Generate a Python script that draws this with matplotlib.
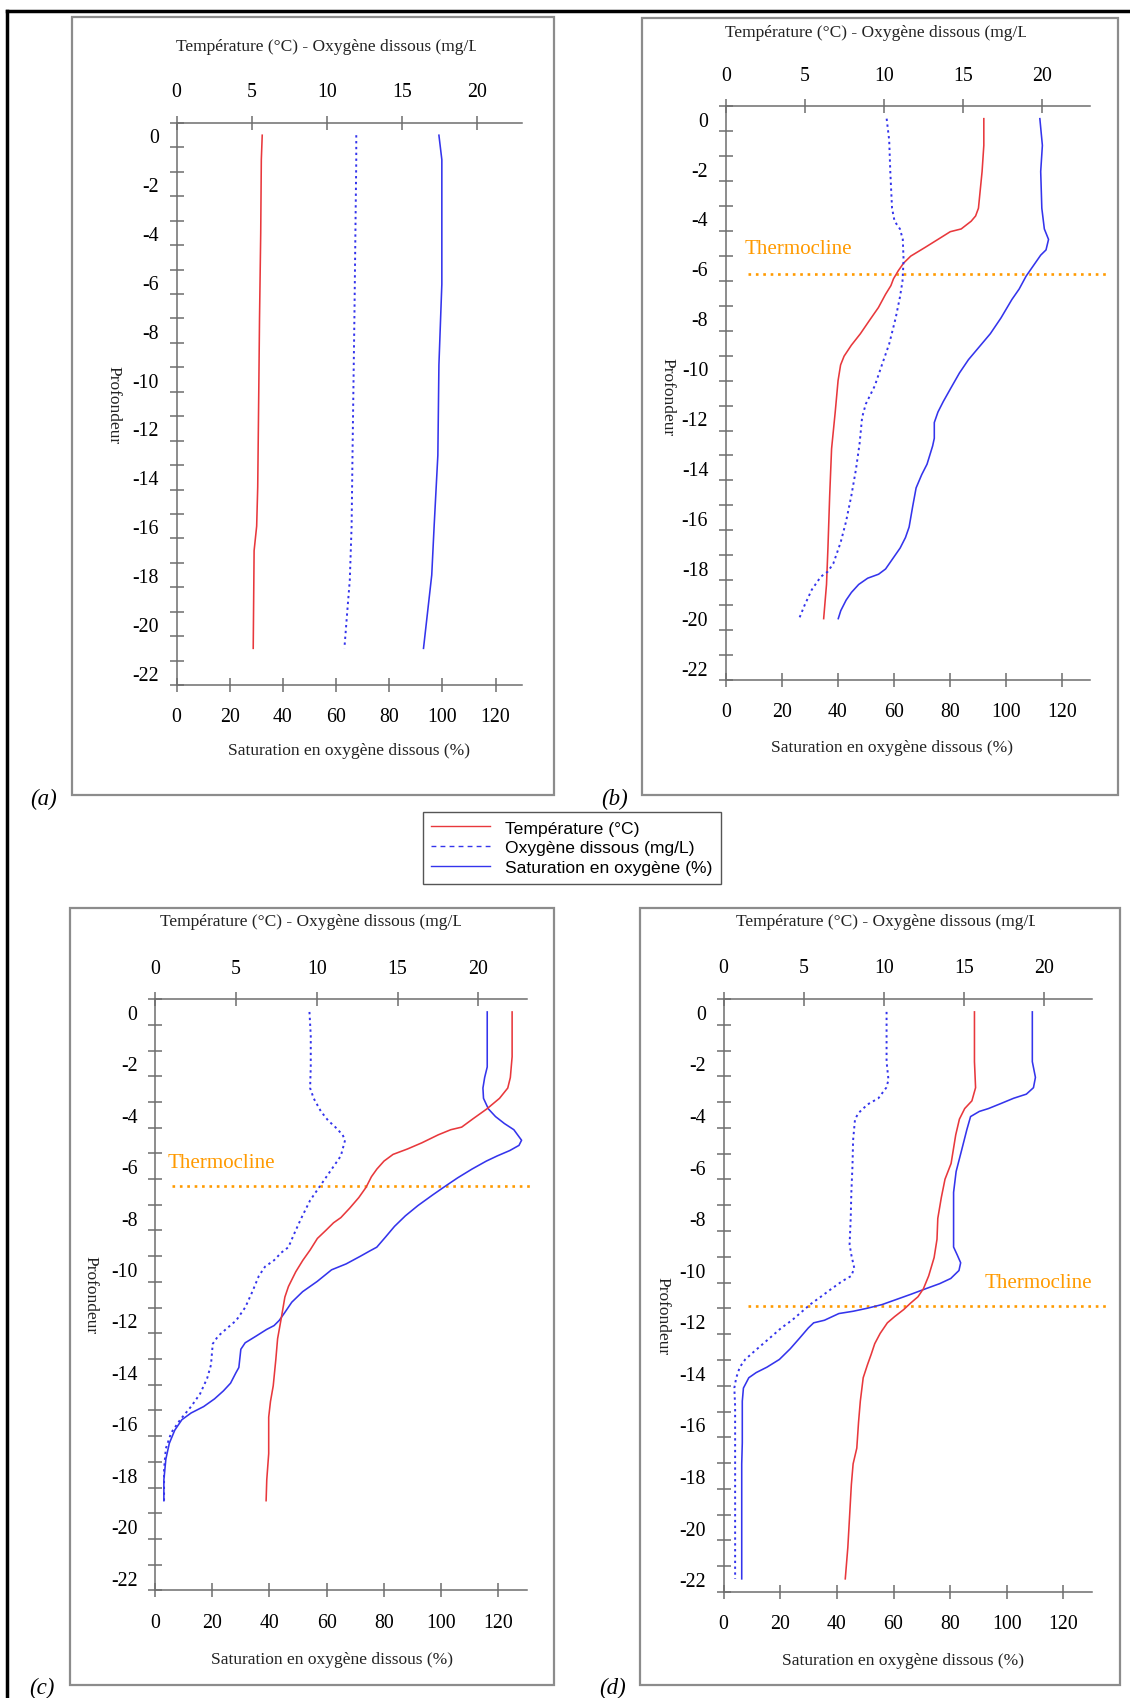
import matplotlib
matplotlib.use('Agg')
import matplotlib.pyplot as plt
from matplotlib.lines import Line2D
from matplotlib.patches import Rectangle
from matplotlib.transforms import Bbox, TransformedBbox

plt.rcParams['axes.unicode_minus'] = False
plt.rcParams['font.family'] = ['Liberation Serif', 'DejaVu Serif']

# ---------------- data ----------------
# panel (a)
a_temp_depth = [0, -1, -4, -7.5, -10.5, -14.4, -16, -17, -21]
a_temp = [5.70, 5.64, 5.60, 5.52, 5.47, 5.40, 5.33, 5.16, 5.10]
a_o2_depth = [0, -1, -7.3, -12.6, -16, -18.2, -19.5, -21]
a_o2 = [11.96, 11.96, 11.84, 11.72, 11.65, 11.53, 11.36, 11.17]
a_sat_depth = [0, -1, -6.1, -9.4, -13.1, -16, -18, -21]
a_sat = [98.7, 99.8, 99.8, 98.7, 98.3, 96.9, 96.0, 92.9]

# panel (b)
b_temp_depth = [0, -1.07, -2.12, -3.59, -3.90, -4.11, -4.42, -4.53, -4.80, -5.16, -5.51, -5.79, -6.10,
                -6.42, -6.69, -7.04, -7.57, -8.09, -8.62, -9.08, -9.52, -9.87, -10.50, -11.76, -13.23,
                -15.11, -17.21, -18.67, -20.04]
b_temp = [16.31, 16.31, 16.20, 15.97, 15.79, 15.51, 14.88, 14.19, 13.51, 12.60, 11.69, 11.24, 10.90,
          10.60, 10.44, 10.10, 9.65, 9.08, 8.51, 7.94, 7.48, 7.26, 7.10, 6.92, 6.69, 6.57, 6.46, 6.37, 6.19]
b_o2_depth = [0, -0.86, -2.12, -3.59, -4.11, -4.42, -4.84, -5.68, -6.52, -7.15, -7.99, -9.03, -9.87,
              -10.71, -11.44, -11.97, -13.02, -14.06, -15.11, -16.16, -16.99, -17.83, -18.15, -18.36,
              -18.88, -19.51, -20.04]
b_o2 = [10.17, 10.33, 10.40, 10.51, 10.67, 11.01, 11.19, 11.24, 11.17, 11.01, 10.74, 10.33, 9.87, 9.42,
        8.85, 8.62, 8.46, 8.23, 7.94, 7.60, 7.26, 6.80, 6.46, 6.01, 5.44, 4.98, 4.64]
b_sat_depth = [0, -1.07, -2.12, -3.59, -4.42, -4.84, -5.26, -5.47, -5.89, -6.31, -6.83, -7.25, -7.99,
               -8.62, -9.14, -9.66, -10.19, -10.82, -11.34, -11.76, -12.18, -12.81, -13.12, -13.85,
               -14.27, -14.80, -15.53, -16.37, -16.79, -17.21, -17.63, -18.05, -18.26, -18.42, -18.67,
               -18.99, -19.30, -19.72, -20.04]
b_sat = [112.2, 113.1, 112.5, 112.9, 113.8, 115.3, 114.4, 112.5, 109.9, 107.3, 104.8, 102.2, 98.3, 94.5,
         90.6, 86.7, 83.5, 80.3, 77.7, 75.8, 74.5, 74.5, 73.9, 71.9, 70.0, 68.0, 66.8, 65.5, 64.2, 62.3,
         59.7, 57.1, 54.6, 50.7, 47.5, 44.9, 43.0, 41.1, 40.2]
b_thermo_depth = -6.21

# panel (c)
c_temp_depth = [0, -1.74, -2.55, -2.96, -3.36, -3.77, -4.17, -4.48, -4.58, -4.78, -5.09, -5.33, -5.54,
                -5.80, -6.11, -6.41, -6.82, -7.22, -7.63, -8.00, -8.20, -8.48, -8.81, -9.26, -9.66,
                -10.11, -10.68, -11.09, -11.90, -12.71, -13.52, -14.54, -15.15, -15.76, -17.18, -18.20, -19.01]
c_temp = [22.08, 22.08, 21.97, 21.81, 21.30, 20.52, 19.63, 18.96, 18.29, 17.51, 16.50, 15.61, 14.72,
          14.16, 13.72, 13.38, 13.05, 12.60, 12.04, 11.49, 11.04, 10.59, 10.04, 9.59, 9.14, 8.70, 8.25,
          8.03, 7.81, 7.58, 7.47, 7.31, 7.14, 7.03, 7.03, 6.91, 6.87]
c_o2_depth = [0, -0.92, -2.14, -2.96, -3.36, -3.87, -4.22, -4.48, -4.78, -4.99, -5.60, -6.21, -6.72,
              -7.33, -8.04, -8.65, -9.15, -9.36, -9.66, -9.91, -10.27, -10.88, -11.49, -12.00, -12.30,
              -12.61, -12.91, -13.73, -14.24, -14.85, -15.35, -15.86, -16.37, -16.98, -17.79, -19.01]
c_o2 = [9.55, 9.63, 9.63, 9.59, 9.81, 10.26, 10.70, 11.15, 11.60, 11.75, 11.49, 10.82, 10.26, 9.59,
        9.03, 8.59, 8.25, 7.81, 7.36, 6.80, 6.42, 6.02, 5.58, 5.02, 4.46, 3.90, 3.57, 3.46, 3.23, 2.79,
        2.23, 1.56, 1.00, 0.67, 0.56, 0.56]
c_sat_depth = [0, -2.14, -2.55, -2.96, -3.36, -3.77, -4.07, -4.34, -4.58, -4.99, -5.19, -5.39, -5.60,
               -5.80, -6.11, -6.45, -6.78, -7.12, -7.53, -7.93, -8.34, -8.75, -9.15, -9.30, -9.50, -9.80,
               -10.03, -10.48, -10.88, -11.29, -11.70, -12.00, -12.20, -12.35, -12.61, -12.87, -13.12,
               -13.83, -14.03, -14.44, -14.74, -15.05, -15.35, -15.60, -15.86, -16.27, -16.78, -17.39,
               -18.20, -19.01]
c_sat = [116.1, 116.1, 115.2, 114.6, 114.8, 116.5, 119.0, 122.1, 125.4, 128.1, 127.2, 124.0, 119.6,
         115.8, 110.8, 105.8, 101.4, 97.0, 91.9, 87.5, 83.7, 80.6, 77.5, 75.0, 71.8, 66.8, 61.7, 56.7,
         51.6, 47.8, 45.3, 43.4, 41.6, 39.0, 35.3, 31.5, 30.0, 29.3, 28.3, 26.4, 23.9, 20.8, 17.0, 12.6,
         9.4, 6.9, 5.0, 3.8, 3.1, 3.1]
c_thermo_depth = -6.76

# panel (d)
d_temp_depth = [0, -1.93, -2.94, -3.45, -3.75, -4.16, -4.77, -5.88, -6.49, -7.20, -8.01, -8.82, -9.53,
                -10.24, -10.74, -11.05, -11.29, -11.55, -11.82, -12.06, -12.47, -12.87, -13.28, -13.68,
                -14.19, -15.10, -15.91, -16.92, -17.53, -18.34, -19.56, -20.77, -21.99]
d_temp = [15.67, 15.67, 15.74, 15.51, 15.06, 14.73, 14.50, 14.21, 13.83, 13.60, 13.38, 13.33, 13.15,
          12.81, 12.48, 12.14, 11.69, 11.24, 10.68, 10.23, 9.78, 9.44, 9.22, 8.99, 8.72, 8.54, 8.43,
          8.32, 8.09, 7.98, 7.87, 7.76, 7.60]
d_o2_depth = [0, -1.93, -2.64, -2.94, -3.35, -3.59, -3.92, -4.16, -4.97, -5.98, -7.00, -8.01, -9.02,
              -9.43, -9.93, -10.24, -10.44, -10.74, -11.05, -11.35, -11.66, -11.96, -12.26, -12.57,
              -12.87, -13.17, -13.48, -13.78, -14.19, -14.59, -15.30, -17.13, -19.15, -21.99]
d_o2 = [10.18, 10.18, 10.30, 10.16, 9.67, 8.99, 8.43, 8.21, 8.09, 8.05, 7.98, 7.94, 7.87, 7.98, 8.16,
        7.98, 7.42, 6.74, 6.07, 5.40, 4.83, 4.27, 3.60, 3.03, 2.47, 1.91, 1.35, 1.01, 0.79, 0.67, 0.72,
        0.72, 0.72, 0.72]
d_sat_depth = [0, -1.93, -2.54, -2.94, -3.19, -3.35, -3.55, -3.75, -3.86, -4.06, -4.56, -5.38, -6.19,
               -7.00, -8.01, -9.12, -9.43, -9.73, -10.03, -10.34, -10.54, -10.74, -10.95, -11.15, -11.35,
               -11.49, -11.61, -11.70, -11.96, -12.06, -12.26, -12.67, -13.07, -13.48, -13.78, -13.99,
               -14.19, -14.59, -15.10, -16.72, -17.53, -21.99]
d_sat = [109.0, 109.0, 110.1, 109.4, 106.9, 102.4, 98.0, 93.5, 90.3, 87.2, 85.9, 84.0, 82.1, 81.2, 81.2,
         81.2, 82.5, 83.7, 83.1, 80.2, 76.3, 71.3, 66.2, 61.1, 56.0, 50.9, 45.8, 40.7, 35.6, 31.8, 29.9,
         26.7, 23.5, 19.7, 15.3, 11.5, 8.9, 7.0, 6.6, 6.6, 6.4, 6.4]
d_thermo_depth = -11.39

# axes ticks / labels
sat_ticks = [0, 20, 40, 60, 80, 100, 120]
temp_ticks = [0, 5, 10, 15, 20]
depth_labels = [0, -2, -4, -6, -8, -10, -12, -14, -16, -18, -20, -22]
depth_minor = [0.5 - k for k in range(24)]
panel_tags = ['(a)', '(b)', '(c)', '(d)']
series_names = ['Température (°C)', 'Oxygène dissous (mg/L)', 'Saturation en oxygène (%)']
top_title = 'Température (°C) - Oxygène dissous (mg/L)'
bottom_title = 'Saturation en oxygène dissous (%)'
depth_title = 'Profondeur'
thermo_text = 'Thermocline'

# ---------------- style / layout ----------------
W, H = 1130, 1699
RED = '#e8383c'
BLUE = '#3434ec'
ORANGE = '#ff9a00'
AXC = '#6e6e6e'

fig = plt.figure(figsize=(W / 100, H / 100), dpi=100)


def frect(l, t, r, b):
    return [l / W, 1 - b / H, (r - l) / W, (b - t) / H]


panels = [
    dict(ax=(176.6, 124.0, 522.1, 686.0), frame=(72, 18, 554, 796),
         top=(-0.003, 1.137, 475.7), bot=(0.500, -0.1148), dep=(-0.1826, 0.5), tag=(30.6, 799),
         temp=(a_temp, a_temp_depth), o2=(a_o2, a_o2_depth), sat=(a_sat, a_sat_depth),
         thermo=None),
    dict(ax=(725.7, 107.2, 1089.7, 681.0), frame=(642, 19, 1118, 796),
         top=(-0.001, 1.129, 1025.5), bot=(0.456, -0.1168), dep=(-0.161, 0.494), tag=(601, 799),
         temp=(b_temp, b_temp_depth), o2=(b_o2, b_o2_depth), sat=(b_sat, b_sat_depth),
         thermo=(b_thermo_depth, 8.0, 136.9, 6.8, -5.22)),
    dict(ax=(155.0, 1000.1, 527.0, 1591.4), frame=(69.5, 908.7, 554, 1686),
         top=(0.0145, 1.132, 461.3), bot=(0.4755, -0.1157), dep=(-0.1726, 0.501), tag=(29.5, 1688.6),
         temp=(c_temp, c_temp_depth), o2=(c_o2, c_o2_depth), sat=(c_sat, c_sat_depth),
         thermo=(c_thermo_depth, 6.0, 131.9, 4.4, -5.86)),
    dict(ax=(723.6, 1000.0, 1091.8, 1593.0), frame=(639.6, 908.7, 1120, 1686),
         top=(0.034, 1.132, 1035.3), bot=(0.487, -0.1147), dep=(-0.1665, 0.467), tag=(599, 1688.6),
         temp=(d_temp, d_temp_depth), o2=(d_o2, d_o2_depth), sat=(d_sat, d_sat_depth),
         thermo=(d_thermo_depth, 8.6, 136.5, 92.2, -10.5)),
]

TICK_FS = 14.3
LABEL_FS = 12.5

for i, p in enumerate(panels):
    l, t, r, b = p['frame']
    fig.patches.append(Rectangle((l / W, 1 - b / H), (r - l) / W, (b - t) / H,
                                 transform=fig.transFigure, fill=False, ec='#8c8c8c', lw=1.6))

    ax = fig.add_axes(frect(*p['ax']))
    ax.set_xlim(0, 130)
    ax.set_ylim(-22.5, 0.5)
    ax2 = ax.twiny()
    ax2.set_xlim(0, 23)
    ax.patch.set_visible(False)

    for a in (ax, ax2):
        for s in a.spines.values():
            s.set_color(AXC)
            s.set_linewidth(1.1)
        a.spines['right'].set_visible(False)
    ax.spines['top'].set_visible(False)
    ax2.spines['bottom'].set_visible(False)
    ax2.spines['left'].set_visible(False)

    ax.set_xticks(sat_ticks)
    ax.tick_params(axis='x', direction='inout', length=10, width=1.1, color=AXC,
                   pad=11.0, labelsize=TICK_FS)
    ax.set_yticks(depth_labels)
    ax.set_yticks(depth_minor, minor=True)
    ax.tick_params(axis='y', which='major', length=0, pad=12.6, labelsize=TICK_FS)
    ax.tick_params(axis='y', which='minor', direction='inout', length=10, width=1.1, color=AXC)
    ax2.set_xticks(temp_ticks)
    ax2.tick_params(axis='x', direction='inout', length=10, width=1.1, color=AXC,
                    pad=10.5, labelsize=TICK_FS)

    # series
    tv, td = p['temp']
    ov, od = p['o2']
    sv, sd = p['sat']
    ax2.plot(tv, td, color=RED, lw=1.15, zorder=3)
    ax2.plot(ov, od, color=BLUE, lw=1.4, ls=(0, (1.2, 1.8)), zorder=3)
    ax.plot(sv, sd, color=BLUE, lw=1.15, zorder=3)

    if p['thermo'] is not None:
        dth, x0, x1, tx, ty = p['thermo']
        ax.plot([x0, x1], [dth, dth], color=ORANGE, lw=1.9, ls=(0, (1.0, 1.8)),
                clip_on=False, zorder=2)
        ax.text(tx, ty, thermo_text, color=ORANGE, fontsize=15.1, ha='left', va='center')

    # axis titles
    tx_, ty_, clipx = p['top']
    lab = ax2.set_xlabel(top_title, fontsize=LABEL_FS, ha='left', va='center', color='#222222')
    ax2.xaxis.set_label_coords(tx_, ty_)
    lab.set_clip_box(TransformedBbox(Bbox.from_extents(0, 0, clipx / W, 1), fig.transFigure))
    lab.set_clip_on(True)

    bx, by = p['bot']
    ax.set_xlabel(bottom_title, fontsize=LABEL_FS, va='center', color='#222222')
    ax.xaxis.set_label_coords(bx, by)

    dx, dy = p['dep']
    ax.set_ylabel(depth_title, fontsize=LABEL_FS, rotation=270, va='center', ha='center',
                  color='#222222')
    ax.yaxis.set_label_coords(dx, dy)

    gx, gy = p['tag']
    fig.text(gx / W, 1 - gy / H, panel_tags[i], style='italic', fontsize=16.5,
             ha='left', va='center')

# outer border (partially cropped in the source)
fig.add_artist(Line2D([7.2 / W, 1.0], [1 - 11.5 / H, 1 - 11.5 / H], transform=fig.transFigure,
                      color='black', lw=2.5))
fig.add_artist(Line2D([7.2 / W, 7.2 / W], [0.0, 1 - 11.5 / H], transform=fig.transFigure,
                      color='black', lw=2.5))

# legend
handles = [Line2D([], [], color=RED, lw=1.0),
           Line2D([], [], color=BLUE, lw=1.0, ls=(0, (3.5, 3))),
           Line2D([], [], color=BLUE, lw=1.0)]
leg = fig.legend(handles, series_names, loc='upper left',
                 bbox_to_anchor=(422.6 / W, 1 - 812.6 / H),
                 prop={'family': 'Liberation Sans', 'size': 12.6},
                 frameon=True, fancybox=False, edgecolor='#555555', framealpha=1,
                 borderpad=0.5, labelspacing=0.25, handlelength=3.36, handletextpad=0.85,
                 borderaxespad=0)
leg.get_frame().set_linewidth(1.0)

fig.savefig('out.png', dpi=100)
